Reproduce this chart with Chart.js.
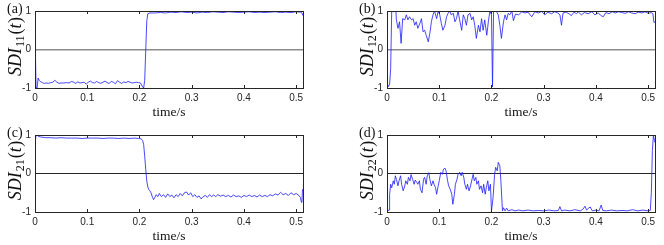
<!DOCTYPE html>
<html>
<head>
<meta charset="utf-8">
<script src="https://cdn.jsdelivr.net/npm/chart.js@4.4.0/dist/chart.umd.min.js"></script>
<style>
  html, body { margin: 0; padding: 0; background: #fff; }
  body { width: 664px; height: 245px; position: relative; overflow: hidden; }
  canvas { position: absolute; }
  .tag { position: absolute; font: 14px 'Liberation Serif', serif; color: #111; line-height: 14px; }
</style>
</head>
<body>
<canvas id="pa" width="332" height="122" style="left:0;top:0"></canvas>
<canvas id="pb" width="332" height="122" style="left:352px;top:0"></canvas>
<canvas id="pc" width="332" height="122" style="left:0;top:124px"></canvas>
<canvas id="pd" width="332" height="122" style="left:352px;top:124px"></canvas>
<script>
// axis ticks
const xTicks = [0, 0.1, 0.2, 0.3, 0.4, 0.5];
const xTickLabels = ['0', '0.1', '0.2', '0.3', '0.4', '0.5'];
const yTicks = [-1, 0, 1];
const yTickLabels = ['-1', '0', '1'];
const panelTags = ['(a)', '(b)', '(c)', '(d)'];
const ySubs = ['11', '12', '21', '22'];   // SDI_xx(t)

// (a) SDI11
const tA = [0, 0.001, 0.002, 0.004, 0.006, 0.008, 0.010, 0.014, 0.018, 0.022, 0.026, 0.030, 0.034, 0.038,
  0.042, 0.046, 0.050, 0.055, 0.060, 0.065, 0.070, 0.074, 0.078, 0.082, 0.086, 0.090, 0.094, 0.098,
  0.102, 0.106, 0.110, 0.114, 0.118, 0.122, 0.126, 0.130, 0.134, 0.138, 0.142, 0.146, 0.150, 0.154,
  0.158, 0.162, 0.166, 0.170, 0.174, 0.178, 0.182, 0.186, 0.190, 0.194, 0.198, 0.202, 0.205, 0.208,
  0.210, 0.212, 0.214, 0.216, 0.220, 0.230, 0.240, 0.250, 0.260, 0.270, 0.280, 0.290, 0.300, 0.310,
  0.320, 0.330, 0.340, 0.350, 0.360, 0.370, 0.380, 0.390, 0.400, 0.410, 0.420, 0.430, 0.440, 0.450,
  0.460, 0.470, 0.480, 0.490, 0.500, 0.508, 0.511, 0.513];
const sdi11 = [0.35, -0.2, -0.98, -1.0, -0.74, -0.8, -0.83, -0.86, -0.88, -0.87, -0.88, -0.86, -0.85, -0.8,
  -0.85, -0.88, -0.87, -0.87, -0.86, -0.87, -0.83, -0.85, -0.88, -0.84, -0.87, -0.86, -0.85, -0.9,
  -0.85, -0.82, -0.86, -0.87, -0.83, -0.86, -0.88, -0.85, -0.82, -0.86, -0.88, -0.83, -0.85, -0.89,
  -0.81, -0.85, -0.88, -0.84, -0.86, -0.83, -0.85, -0.87, -0.86, -0.85, -0.86, -0.87, -0.95, -1.0,
  -0.8, 0.0, 0.75, 0.93, 0.95, 0.95, 0.96, 0.95, 0.97, 0.96, 0.98, 0.96, 0.97, 0.95,
  0.97, 0.96, 0.98, 0.97, 0.96, 0.98, 0.97, 0.96, 0.97, 0.98, 0.96, 0.97, 0.96, 0.97,
  0.98, 0.96, 0.97, 0.96, 0.98, 0.97, 0.95, 0.88];

// (b) SDI12
const tB = [0, 0.001, 0.003, 0.005, 0.007, 0.009, 0.013, 0.017, 0.018, 0.021, 0.024, 0.027, 0.030, 0.034,
  0.037, 0.040, 0.043, 0.047, 0.050, 0.053, 0.056, 0.059, 0.063, 0.066, 0.069, 0.072, 0.075, 0.079,
  0.082, 0.085, 0.088, 0.091, 0.095, 0.098, 0.101, 0.104, 0.107, 0.111, 0.114, 0.117, 0.120, 0.123,
  0.127, 0.130, 0.133, 0.136, 0.139, 0.143, 0.146, 0.149, 0.152, 0.155, 0.159, 0.162, 0.165, 0.168,
  0.171, 0.175, 0.178, 0.181, 0.184, 0.187, 0.191, 0.194, 0.197, 0.200, 0.202, 0.204, 0.209, 0.213,
  0.216, 0.219, 0.223, 0.226, 0.229, 0.232, 0.235, 0.239, 0.242, 0.246, 0.252, 0.258, 0.264, 0.270,
  0.277, 0.283, 0.290, 0.296, 0.302, 0.308, 0.315, 0.321, 0.327, 0.331, 0.334, 0.337, 0.343, 0.349,
  0.353, 0.358, 0.363, 0.366, 0.372, 0.378, 0.385, 0.392, 0.398, 0.404, 0.410, 0.414, 0.419, 0.425,
  0.431, 0.437, 0.443, 0.449, 0.456, 0.462, 0.468, 0.475, 0.481, 0.488, 0.494, 0.500, 0.506, 0.509,
  0.511, 0.513];
const sdi12 = [0.9, -0.9, -0.96, -0.9, -0.5, 1.0, 0.98, 1.0, 0.77, 0.55, 0.72, 0.16, 0.8, 0.77,
  0.9, 0.77, 0.85, 0.77, 0.8, 0.63, 0.72, 0.55, 0.68, 0.8, 0.46, 0.5, 0.37, 0.2,
  0.42, 0.72, 0.9, 1.0, 0.8, 1.0, 0.9, 0.68, 0.5, 0.63, 0.85, 0.94, 1.0, 0.9,
  0.94, 0.72, 0.8, 1.0, 0.77, 0.5, 0.9, 0.8, 0.63, 0.9, 0.94, 0.77, 0.85, 0.63,
  0.29, 0.63, 0.46, 0.8, 0.5, 0.77, 0.37, 0.72, 1.0, 0.9, -0.97, 1.0, 1.0, 0.9,
  0.63, 0.29, 0.72, 0.9, 0.77, 0.94, 0.9, 1.0, 0.75, 0.92, 0.9, 0.98, 0.95, 0.97,
  0.85, 0.98, 0.95, 0.99, 0.9, 0.97, 0.93, 0.98, 0.95, 0.9, 0.63, 0.95, 0.97, 0.92,
  0.88, 0.97, 0.93, 0.98, 0.9, 0.96, 0.93, 0.98, 0.9, 0.95, 0.88, 0.85, 0.96, 0.93,
  0.98, 0.95, 0.98, 0.96, 0.94, 0.98, 0.95, 0.93, 0.97, 0.95, 0.98, 0.94, 0.96, 0.93,
  0.7, 0.72];

// (c) SDI21
const tC = [0, 0.002, 0.004, 0.006, 0.010, 0.015, 0.020, 0.030, 0.040, 0.050, 0.060, 0.070, 0.080, 0.090,
  0.100, 0.110, 0.120, 0.130, 0.140, 0.150, 0.160, 0.170, 0.180, 0.190, 0.198, 0.203, 0.206, 0.208,
  0.210, 0.212, 0.214, 0.216, 0.218, 0.220, 0.222, 0.225, 0.227, 0.229, 0.232, 0.235, 0.238, 0.242,
  0.246, 0.250, 0.254, 0.258, 0.262, 0.266, 0.270, 0.274, 0.278, 0.282, 0.286, 0.290, 0.294, 0.298,
  0.302, 0.306, 0.310, 0.314, 0.318, 0.322, 0.326, 0.330, 0.334, 0.338, 0.342, 0.346, 0.350, 0.355,
  0.360, 0.365, 0.370, 0.375, 0.380, 0.385, 0.390, 0.395, 0.400, 0.405, 0.410, 0.415, 0.420, 0.425,
  0.430, 0.435, 0.440, 0.445, 0.450, 0.455, 0.460, 0.465, 0.470, 0.475, 0.480, 0.485, 0.490, 0.495,
  0.500, 0.505, 0.508, 0.510, 0.511, 0.512, 0.513];
const sdi21 = [0.8, 0.98, 1.0, 0.97, 0.95, 0.94, 0.93, 0.93, 0.92, 0.93, 0.92, 0.92, 0.92, 0.91,
  0.92, 0.92, 0.92, 0.91, 0.92, 0.92, 0.91, 0.92, 0.91, 0.92, 0.91, 0.9, 0.86, 0.75,
  0.45, 0.1, -0.2, -0.35, -0.42, -0.45, -0.5, -0.62, -0.68, -0.63, -0.55, -0.6, -0.52, -0.6,
  -0.55, -0.62, -0.53, -0.6, -0.56, -0.63, -0.55, -0.6, -0.52, -0.58, -0.5, -0.48, -0.56, -0.5,
  -0.6, -0.55, -0.62, -0.58, -0.66, -0.6, -0.57, -0.62, -0.55, -0.6, -0.56, -0.6, -0.55, -0.59,
  -0.56, -0.6, -0.57, -0.61, -0.56, -0.6, -0.58, -0.62, -0.57, -0.6, -0.56, -0.6, -0.57, -0.61,
  -0.56, -0.6, -0.57, -0.6, -0.55, -0.58, -0.53, -0.56, -0.49, -0.55, -0.52, -0.57, -0.5, -0.55,
  -0.52, -0.57, -0.62, -0.75, -0.72, -0.42, -0.4];

// (d) SDI22
const tD = [0, 0.001, 0.004, 0.005, 0.007, 0.009, 0.012, 0.014, 0.016, 0.018, 0.021, 0.023, 0.026, 0.028,
  0.031, 0.034, 0.036, 0.039, 0.041, 0.044, 0.046, 0.049, 0.052, 0.054, 0.057, 0.059, 0.062, 0.064,
  0.067, 0.070, 0.072, 0.075, 0.077, 0.080, 0.082, 0.085, 0.088, 0.090, 0.093, 0.095, 0.098, 0.100,
  0.103, 0.106, 0.108, 0.111, 0.113, 0.116, 0.118, 0.121, 0.124, 0.126, 0.129, 0.131, 0.134, 0.136,
  0.139, 0.142, 0.144, 0.147, 0.149, 0.152, 0.154, 0.157, 0.160, 0.162, 0.165, 0.167, 0.170, 0.172,
  0.175, 0.177, 0.180, 0.183, 0.185, 0.188, 0.190, 0.193, 0.195, 0.198, 0.200, 0.203, 0.206, 0.208,
  0.211, 0.213, 0.216, 0.218, 0.221, 0.223, 0.226, 0.229, 0.232, 0.239, 0.245, 0.252, 0.260, 0.270,
  0.280, 0.290, 0.300, 0.310, 0.320, 0.328, 0.331, 0.334, 0.340, 0.350, 0.360, 0.370, 0.375, 0.379,
  0.382, 0.386, 0.389, 0.393, 0.400, 0.406, 0.410, 0.413, 0.420, 0.430, 0.440, 0.450, 0.460, 0.470,
  0.480, 0.490, 0.500, 0.504, 0.506, 0.508, 0.510, 0.512, 0.513];
const sdi22 = [-0.23, -0.97, -0.95, -0.54, -0.28, -0.37, -0.19, -0.28, -0.06, -0.15, -0.32, -0.19, -0.06, -0.28,
  -0.45, -0.32, -0.19, -0.28, -0.1, -0.19, -0.03, -0.15, -0.28, -0.17, -0.23, -0.28, -0.19, -0.41,
  -0.5, -0.15, -0.1, -0.28, -0.06, 0.02, -0.15, -0.32, -0.19, -0.28, -0.37, -0.54, -0.32, -0.19,
  0.03, -0.02, 0.11, 0.14, 0.07, -0.19, -0.32, -0.41, -0.54, -0.8, -0.54, -0.28, -0.15, -0.02,
  0.03, -0.06, 0.03, -0.1, -0.28, -0.41, -0.28, -0.45, -0.32, -0.19, -0.02, -0.19, -0.1, -0.28,
  -0.19, -0.41, -0.32, -0.5, -0.28, -0.54, -0.37, -0.19, -0.45, -0.28, -0.97, -0.63, -0.02, 0.16,
  0.07, 0.29, 0.2, -0.19, -0.97, -0.89, -0.97, -0.9, -0.97, -0.94, -0.97, -0.95, -0.97, -0.95,
  -0.97, -0.96, -0.97, -0.95, -0.97, -0.96, -0.86, -0.97, -0.95, -0.97, -0.94, -0.97, -0.93, -0.85,
  -0.95, -0.9, -0.87, -0.97, -0.95, -0.97, -0.82, -0.96, -0.97, -0.95, -0.97, -0.96, -0.97, -0.94,
  -0.97, -0.95, -0.97, -0.96, -0.5, 0.6, 1.0, 0.85, 0.8];

const axisColor = '#262626';

// box around plot area with short inward ticks, MATLAB style
const boxPlugin = {
  id: 'box',
  afterDatasetsDraw(chart) {
    const { ctx, chartArea: a, scales } = chart;
    ctx.save();
    ctx.strokeStyle = axisColor;
    ctx.lineWidth = 1;
    ctx.beginPath();
    xTicks.forEach(v => {
      const px = Math.round(scales.x.getPixelForValue(v)) + 0.5;
      ctx.moveTo(px, a.bottom); ctx.lineTo(px, a.bottom - 3);
      ctx.moveTo(px, a.top); ctx.lineTo(px, a.top + 3);
    });
    ctx.stroke();
    ctx.strokeRect(Math.round(a.left) + 0.5, Math.round(a.top) + 0.5,
      Math.round(a.right - a.left), Math.round(a.bottom - a.top));
    ctx.restore();
  }
};

// y label SDI_xx(t) with a real subscript, rotated
const yLabelPlugin = {
  id: 'ylabel',
  afterDraw(chart, args, opts) {
    const { ctx, chartArea: a } = chart;
    const big = 'italic 18px "Liberation Serif"';
    const up = '18px "Liberation Serif"';
    const small = '12px "Liberation Serif"';
    // text, font, baseline shift, gap after
    const parts = [['SDI', big, 0, 1], [opts.sub, small, 3, 1], ['(', up, 0, 0], ['t', big, 0, 0.5], [')', up, 0, 0]];
    ctx.save();
    ctx.fillStyle = '#111';
    ctx.textBaseline = 'alphabetic';
    ctx.textAlign = 'left';
    let total = 0;
    parts.forEach(p => { ctx.font = p[1]; total += ctx.measureText(p[0]).width + p[3]; });
    ctx.translate(21, (a.top + a.bottom) / 2 - 3);
    ctx.rotate(-Math.PI / 2);
    let x = -total / 2;
    parts.forEach(p => {
      ctx.font = p[1];
      ctx.fillText(p[0], x, p[2]);
      x += ctx.measureText(p[0]).width + p[3];
    });
    ctx.restore();
  }
};

function makePanel(id, idx, t, v, zeroColor, zeroWidth) {
  new Chart(document.getElementById(id), {
    type: 'line',
    data: {
      datasets: [{
        data: t.map((x, i) => ({ x: x, y: v[i] })),
        borderColor: '#1a1aff',
        borderWidth: 0.8,
        pointRadius: 0,
        tension: 0
      }]
    },
    options: {
      responsive: false,
      animation: false,
      devicePixelRatio: 1,
      layout: { padding: { top: 11, right: 29, left: 0, bottom: 0 } },
      plugins: {
        legend: { display: false },
        tooltip: { enabled: false },
        ylabel: { sub: ySubs[idx] }
      },
      scales: {
        x: {
          type: 'linear', min: 0, max: 0.513,
          afterFit: s => { s.height = 122 - 88; },
          afterBuildTicks: s => { s.ticks = xTicks.map(x => ({ value: x })); },
          grid: { display: false, drawTicks: false },
          border: { display: false },
          ticks: {
            autoSkip: false, maxRotation: 0, padding: 4, color: axisColor,
            font: { family: 'Liberation Sans', size: 10 },
            callback: (val, i) => xTickLabels[i]
          },
          title: {
            display: true, text: 'time/s', color: '#111',
            font: { family: 'Liberation Serif', size: 13.5 },
            padding: { top: 0, bottom: 1 }
          }
        },
        y: {
          min: -1, max: 1,
          afterFit: s => { s.width = 35; },
          afterBuildTicks: s => { s.ticks = yTicks.map(y => ({ value: y })); },
          border: { display: false },
          grid: {
            drawTicks: false,
            color: c => c.tick && c.tick.value === 0 ? zeroColor : 'rgba(0,0,0,0)',
            lineWidth: zeroWidth
          },
          ticks: {
            padding: 4, color: axisColor,
            font: { family: 'Liberation Sans', size: 10 },
            callback: (val, i) => yTickLabels[i]
          },
          title: { display: false, text: 'SDI' + ySubs[idx] + '(t)' }
        }
      }
    },
    plugins: [boxPlugin, yLabelPlugin]
  });

  const tag = document.createElement('div');
  tag.className = 'tag';
  tag.textContent = panelTags[idx];
  const c = document.getElementById(id);
  tag.style.left = (parseInt(c.style.left) + 7) + 'px';
  tag.style.top = (parseInt(c.style.top) + 2) + 'px';
  document.body.appendChild(tag);
}

makePanel('pa', 0, tA, sdi11, '#8c8c8c', 1.5);
makePanel('pb', 1, tB, sdi12, '#8c8c8c', 1.5);
makePanel('pc', 2, tC, sdi21, '#262626', 1);
makePanel('pd', 3, tD, sdi22, '#262626', 1);
</script>
</body>
</html>
